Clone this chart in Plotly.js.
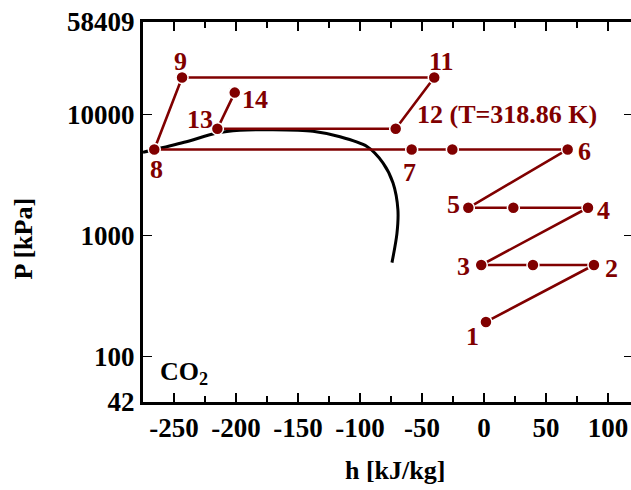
<!DOCTYPE html>
<html>
<head>
<meta charset="utf-8">
<script src="https://cdn.plot.ly/plotly-3.0.1.min.js"></script>
<style>
html,body{margin:0;padding:0;overflow:hidden;background:#fff;}
#chart{width:636px;height:490px;}
</style>
</head>
<body>
<div id="chart"></div>
<script>
// ---- data ----
var cycleH = [1.6, 88.7, 39.5, -2.2, 83.9, 23.7, -12.6, 67.5, -25.5, -58.3, -265.9, -243.5, -40.1, -71.2, -215, -201];
var cycleP = [193, 571, 571, 571, 1698, 1698, 1698, 5152, 5152, 5152, 5152, 20280, 20280, 7657, 7657, 15224];
var cycleLabels = ['1', '2', '', '3', '4', '', '5', '6', '', '7', '8', '9', '11', '12 (T=318.86 K)', '13', '14'];

var domeH = [-275, -265.3, -240, -215.6, -196.8, -170.2, -137.9, -116.1, -94.4, -81.5, -73.4, -69.4, -70.2, -74.2];
var domeP = [4886, 5152, 5970, 7050, 7430, 7511, 7300, 6566, 5460, 4000, 2730, 1629, 1039, 597];

var xTickVals = [-250, -200, -150, -100, -50, 0, 50, 100];
var xTickText = ['-250', '-200', '-150', '-100', '-50', '0', '50', '100'];
var yTickVals = [42, 100, 1000, 10000, 58409];
var yTickText = ['42', '100', '1000', '10000', '58409'];

// ---- styles ----
var RED = '#800000';
var FAMILY = 'Liberation Serif, Times New Roman, serif';
var FONT = {family: FAMILY, size: 26, color: '#000', weight: 'bold'};
var TICKFONT = {family: FAMILY, size: 27, color: '#000', weight: 'bold'};
// label offsets in pixels [xshift, yshift, xanchor]
var labelOffsets = [
  [-13, -15, 'center'], [18, -4, 'center'], [0, 0, 'center'], [-18, -2, 'center'],
  [16, -3, 'center'], [0, 0, 'center'], [-15, 3, 'center'], [17, -2, 'center'],
  [0, 0, 'center'], [-2, -23, 'center'], [2, -20, 'center'], [-2, 16, 'center'],
  [7, 16, 'center'], [19, 14, 'left'], [-17, 9, 'center'], [20, -7, 'center']
];

var traces = [
  {x: domeH, y: domeP, mode: 'lines', type: 'scatter',
   line: {color: '#000', width: 3, shape: 'spline', smoothing: 0.8}, hoverinfo: 'skip'},
  {x: cycleH, y: cycleP, mode: 'lines+markers', type: 'scatter',
   line: {color: RED, width: 2.6},
   marker: {color: RED, size: 12, line: {color: '#fff', width: 1.5}}, hoverinfo: 'skip'}
];

var annotations = [];
for (var i = 0; i < cycleH.length; i++) {
  if (!cycleLabels[i]) continue;
  var o = labelOffsets[i];
  annotations.push({
    x: cycleH[i], y: Math.log10(cycleP[i]), xref: 'x', yref: 'y',
    text: cycleLabels[i], showarrow: false,
    xshift: o[0], yshift: o[1], xanchor: o[2], yanchor: 'middle',
    font: {family: FAMILY, size: 26, color: RED, weight: 'bold'}
  });
}
annotations.push({
  x: 0.031, y: 0.076, xref: 'paper', yref: 'paper', xanchor: 'left', yanchor: 'middle',
  text: 'CO<sub>2</sub>', showarrow: false, font: FONT
});
annotations.push({
  x: -0.243, y: 0.43, xref: 'paper', yref: 'paper', xanchor: 'center', yanchor: 'middle',
  text: 'P [kPa]', textangle: -90, showarrow: false, font: FONT
});
annotations.push({
  x: 0.5143, y: -0.179, xref: 'paper', yref: 'paper', xanchor: 'center', yanchor: 'middle',
  text: 'h [kJ/kg]', showarrow: false, font: FONT
});

var layout = {
  width: 636, height: 490,
  margin: {l: 143, r: 3, t: 22, b: 88},
  paper_bgcolor: '#fff', plot_bgcolor: '#fff',
  showlegend: false,
  font: FONT,
  xaxis: {
    range: [-275, 120.2], tickmode: 'array', tickvals: xTickVals, ticktext: xTickText,
    ticks: 'inside', ticklen: 9, tickwidth: 1.5, tickcolor: '#000',
    minor: {dtick: 25, tick0: 0, ticks: 'inside', ticklen: 6, tickwidth: 1.5, tickcolor: '#000'},
    showline: true, linewidth: 3, linecolor: '#000', mirror: 'ticks',
    showgrid: false, zeroline: false, tickfont: TICKFONT
  },
  yaxis: {
    type: 'log', range: [Math.log10(42), Math.log10(58409)],
    tickmode: 'array', tickvals: yTickVals, ticktext: yTickText,
    ticks: 'inside', ticklen: 9, tickwidth: 1.5, tickcolor: '#000',
    showline: true, linewidth: 3, linecolor: '#000', mirror: 'ticks',
    showgrid: false, zeroline: false, tickfont: TICKFONT
  },
  annotations: annotations
};

Plotly.newPlot('chart', traces, layout, {displayModeBar: false, staticPlot: true});
</script>
</body>
</html>
